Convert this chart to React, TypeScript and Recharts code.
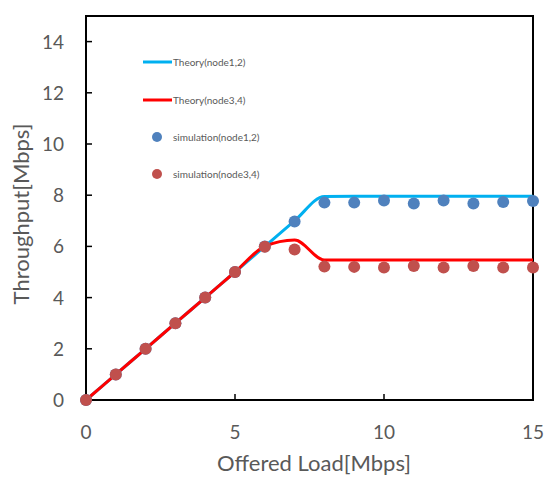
import {
  ComposedChart,
  Line,
  Scatter,
  XAxis,
  YAxis,
  ReferenceArea,
} from "recharts";

const loads = [0, 1, 2, 3, 4, 5, 6, 7, 8, 9, 10, 11, 12, 13, 14, 15];
const theory12 = [0, 1, 2, 3, 4, 5, 6, 7, 7.95, 7.96, 7.96, 7.96, 7.96, 7.96, 7.96, 7.96];
const theory34 = [0, 1, 2, 3, 4, 5, 6, 6.25, 5.47, 5.47, 5.47, 5.47, 5.47, 5.47, 5.47, 5.47];
const sim12 = [0, 1, 2, 3, 4, 5, 6, 6.97, 7.71, 7.71, 7.79, 7.68, 7.79, 7.68, 7.73, 7.77];
const sim34 = [0, 1, 2, 3, 4, 5, 5.99, 5.88, 5.21, 5.2, 5.18, 5.23, 5.18, 5.23, 5.18, 5.18];

const xTicks = [0, 5, 10, 15];
const yTicks = [0, 2, 4, 6, 8, 10, 12, 14];

const FONT = "Lato, 'Open Sans', sans-serif";
const GREY = "#595959";
const BLUE_LINE = "#00b0f0";
const RED_LINE = "#ff0000";
const BLUE_DOT = "#4f81bd";
const RED_DOT = "#c0504d";

const rows = loads.map((x, i) => ({
  x,
  t12: theory12[i],
  t34: theory34[i],
  s12: sim12[i],
  s34: sim34[i],
}));

// plot box edges in svg pixels
const LEFT = 86;
const BOTTOM = 400;

function YTick({ y, payload }: any) {
  return (
    <g>
      {payload.value !== 0 && (
        <line x1={LEFT} x2={LEFT + 6} y1={y} y2={y} stroke="#000" strokeWidth={1.5} />
      )}
      <text x={64} y={y} dy={7} textAnchor="end" fill={GREY} fontSize={19} fontFamily={FONT}>
        {payload.value}
      </text>
    </g>
  );
}

function XTick({ x, payload }: any) {
  return (
    <g>
      {payload.value !== 0 && payload.value !== 15 && (
        <line x1={x} x2={x} y1={BOTTOM} y2={BOTTOM - 6} stroke="#000" strokeWidth={1.5} />
      )}
      <text x={x} y={439} textAnchor="middle" fill={GREY} fontSize={19} fontFamily={FONT}>
        {payload.value}
      </text>
    </g>
  );
}

function Titles() {
  return (
    <g fill={GREY} fontFamily={FONT} fontSize={22}>
      <text x={314} y={471} textAnchor="middle">
        Offered Load[Mbps]
      </text>
      <text x={29} y={214} textAnchor="middle" transform="rotate(-90 29 214)">
        Throughput[Mbps]
      </text>
    </g>
  );
}

function LegendBox() {
  const items = [
    { label: "Theory(node1,2)", kind: "line", color: BLUE_LINE, y: 62 },
    { label: "Theory(node3,4)", kind: "line", color: RED_LINE, y: 100 },
    { label: "simulation(node1,2)", kind: "dot", color: BLUE_DOT, y: 137 },
    { label: "simulation(node3,4)", kind: "dot", color: RED_DOT, y: 174 },
  ];
  return (
    <g>
      {items.map((it) => (
        <g key={it.label}>
          {it.kind === "line" ? (
            <line x1={143} x2={172} y1={it.y} y2={it.y} stroke={it.color} strokeWidth={3} />
          ) : (
            <circle cx={157} cy={it.y} r={5} fill={it.color} />
          )}
          <text x={173} y={it.y} dy={3.5} fill={GREY} fontSize={10} fontFamily={FONT}>
            {it.label}
          </text>
        </g>
      ))}
    </g>
  );
}

export default function App() {
  return (
    <div
      style={{
        position: "fixed",
        left: 0,
        top: 0,
        width: 545,
        height: 477,
        overflow: "hidden",
        background: "#fff",
      }}
    >
      <ComposedChart
        width={545}
        height={477}
        data={rows}
        margin={{ top: 16, right: 12, bottom: 0, left: 0 }}
        style={{ overflow: "visible" }}
      >
        <XAxis
          dataKey="x"
          type="number"
          domain={[0, 15]}
          ticks={xTicks}
          tick={<XTick />}
          tickLine={false}
          axisLine={{ stroke: "#000", strokeWidth: 2 }}
          height={77}
        />
        <YAxis
          type="number"
          domain={[0, 15]}
          ticks={yTicks}
          tick={<YTick />}
          tickLine={false}
          axisLine={{ stroke: "#000", strokeWidth: 2 }}
          width={86}
        />
        <ReferenceArea
          x1={0}
          x2={15}
          y1={0}
          y2={15}
          fill="none"
          stroke="#000"
          strokeWidth={2}
          ifOverflow="visible"
        />
        <Line
          dataKey="t12"
          type="monotone"
          stroke={BLUE_LINE}
          strokeWidth={3}
          dot={false}
          isAnimationActive={false}
        />
        <Line
          dataKey="t34"
          type="monotone"
          stroke={RED_LINE}
          strokeWidth={3}
          dot={false}
          isAnimationActive={false}
        />
        <Scatter
          dataKey="s12"
          fill={BLUE_DOT}
          shape={(p: any) => <circle cx={p.cx} cy={p.cy} r={6} fill={BLUE_DOT} />}
          isAnimationActive={false}
        />
        <Scatter
          dataKey="s34"
          fill={RED_DOT}
          shape={(p: any) => <circle cx={p.cx} cy={p.cy} r={6} fill={RED_DOT} />}
          isAnimationActive={false}
        />
        <LegendBox />
        <Titles />
      </ComposedChart>
    </div>
  );
}
